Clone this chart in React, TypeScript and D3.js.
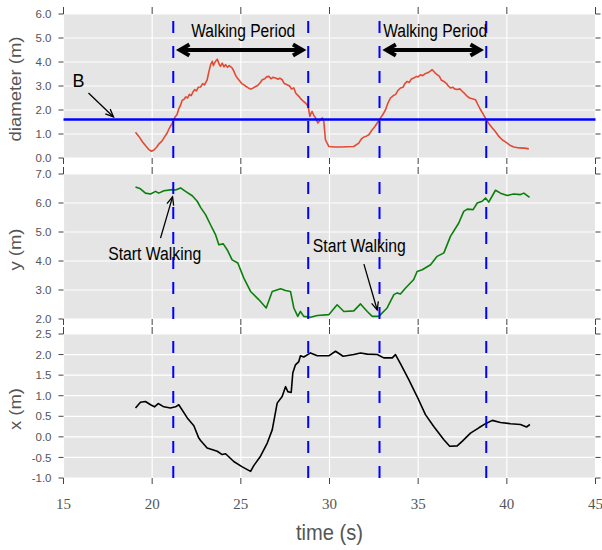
import React from "react";
import * as d3 from "d3";

// ---- data ----
const diameterTime = [19.06,19.25,19.45,19.62,19.8,19.96,20.1,20.25,20.4,20.55,20.7,20.85,20.94,21.05,21.12,21.19,21.3,21.4,21.5,21.6,21.69,21.8,21.9,22.0,22.1,22.2,22.3,22.4,22.5,22.6,22.73,22.85,22.95,23.1,23.2,23.3,23.39,23.45,23.55,23.67,23.78,23.85,23.95,24.05,24.14,24.25,24.35,24.51,24.62,24.7,24.8,24.95,25.05,25.17,25.3,25.4,25.55,25.7,25.83,25.95,26.1,26.21,26.35,26.45,26.58,26.7,26.8,26.96,27.1,27.2,27.33,27.45,27.61,27.75,27.85,27.99,28.1,28.27,28.4,28.5,28.65,28.8,28.89,28.95,29.02,29.1,29.21,29.34,29.45,29.59,29.68,29.77,29.96,30.3,30.62,31.0,31.37,31.65,31.8,31.93,32.1,32.22,32.41,32.55,32.69,32.88,33.0,33.16,33.3,33.44,33.6,33.72,33.85,34.0,34.15,34.25,34.38,34.5,34.6,34.75,34.9,35.0,35.13,35.25,35.4,35.51,35.65,35.79,35.95,36.07,36.2,36.3,36.45,36.6,36.7,36.82,36.95,37.05,37.2,37.35,37.48,37.6,37.77,37.9,38.05,38.23,38.35,38.52,38.65,38.84,39.0,39.18,39.35,39.55,39.75,39.9,40.02,40.2,40.39,40.7,41.0,41.24];
const diameterValues = [1.07,0.9,0.68,0.52,0.36,0.28,0.33,0.45,0.6,0.7,0.88,1.05,1.2,1.35,1.42,1.55,1.72,1.8,2.05,2.2,2.4,2.45,2.55,2.5,2.65,2.6,2.75,2.85,2.8,2.95,2.96,3.1,3.05,3.26,3.6,3.9,4.03,3.85,4.0,4.12,3.9,3.82,3.95,3.8,3.89,3.78,3.85,3.75,3.6,3.45,3.33,3.2,3.1,3.05,2.98,2.93,2.87,2.92,2.98,3.02,3.15,3.26,3.3,3.38,3.4,3.3,3.36,3.33,3.28,3.33,3.26,3.1,3.05,3.0,2.88,2.92,2.7,2.57,2.45,2.38,2.29,2.15,1.73,1.85,1.94,1.8,1.67,1.46,1.55,1.67,1.52,0.76,0.48,0.46,0.46,0.47,0.48,0.62,0.8,0.87,0.92,0.97,1.18,1.3,1.46,1.67,1.8,2.01,2.3,2.5,2.6,2.64,2.8,2.92,2.95,3.1,3.19,3.15,3.28,3.33,3.4,3.38,3.47,3.43,3.52,3.54,3.6,3.68,3.55,3.47,3.4,3.25,3.19,3.1,3.0,2.92,2.95,2.88,2.85,2.88,2.78,2.7,2.57,2.5,2.47,2.43,2.25,2.01,1.85,1.6,1.42,1.25,1.1,0.9,0.75,0.68,0.62,0.52,0.46,0.42,0.41,0.38];

const yPosTime = [19.06,19.34,19.62,19.91,20.19,20.37,20.66,21.13,21.32,21.6,21.88,22.26,22.54,22.73,23.01,23.29,23.57,23.76,24.01,24.23,24.51,24.83,25.17,25.55,26.01,26.43,26.77,27.24,27.52,27.8,27.99,28.21,28.36,28.55,28.93,29.31,29.96,30.43,30.81,31.37,31.75,32.13,32.41,32.78,33.25,33.63,33.82,34.0,34.29,34.75,34.94,35.23,35.7,36.07,36.45,36.82,37.29,37.57,37.77,38.1,38.33,38.61,38.8,38.98,39.36,39.64,40.02,40.39,40.77,40.96,41.28];
const yPosValues = [6.55,6.49,6.34,6.31,6.4,6.34,6.42,6.46,6.45,6.52,6.4,6.25,6.06,5.85,5.6,5.25,4.91,4.56,4.59,4.39,4.04,3.93,3.41,2.95,2.67,2.38,2.95,3.04,2.98,2.95,2.38,2.09,2.26,2.09,2.06,2.12,2.15,2.49,2.26,2.28,2.52,2.26,2.09,2.09,2.38,2.84,2.9,2.86,3.07,3.36,3.64,3.7,3.87,4.16,4.28,4.85,5.31,5.71,5.79,5.77,6.0,6.06,6.17,6.03,6.44,6.34,6.26,6.31,6.29,6.34,6.19];

const xPosTime = [19.06,19.34,19.62,19.91,20.13,20.34,20.66,21.03,21.32,21.5,21.98,22.35,22.63,22.73,23.1,23.67,23.95,24.14,24.6,25.08,25.55,25.73,26.11,26.49,26.77,27.05,27.33,27.52,27.65,27.84,27.93,28.08,28.27,28.36,28.55,28.93,29.31,29.96,30.34,30.77,31.37,31.75,32.13,32.69,33.06,33.54,33.72,34.0,34.47,34.94,35.41,35.88,36.45,36.78,37.2,37.48,37.95,38.42,38.8,39.18,39.64,40.21,40.77,41.11,41.3];
const xPosValues = [0.7,0.84,0.86,0.78,0.73,0.81,0.73,0.7,0.73,0.78,0.46,0.27,-0.03,-0.09,-0.27,-0.35,-0.43,-0.41,-0.6,-0.73,-0.84,-0.7,-0.47,-0.15,0.17,0.82,0.98,1.22,1.1,1.08,1.55,1.75,1.83,1.97,1.94,2.04,1.97,1.97,2.08,1.96,2.0,2.04,2.01,2.0,1.92,1.92,2.0,1.78,1.39,0.98,0.54,0.25,-0.07,-0.23,-0.22,-0.11,0.09,0.22,0.32,0.4,0.35,0.32,0.3,0.24,0.3];

const timeTicks = [15, 20, 25, 30, 35, 40, 45];
const diameterTicks = [0, 1, 2, 3, 4, 5, 6];
const yPosTicks = [2, 3, 4, 5, 6, 7];
const xPosTicks = [-1, -0.5, 0, 0.5, 1, 1.5, 2, 2.5];
const walkingMarks = [21.19, 28.8, 32.82, 38.84];
const walkingPeriods = [[21.48, 28.56], [33.12, 38.57]];
const thresholdB = 1.6;

const W = 602, H = 550;
const x = d3.scaleLinear().domain([15, 45]).range([63.5, 595.5]);
const LEFT = x(15), RIGHT = x(45);

const panels = [
  { key: "d", top: 14, bottom: 158, domain: [0, 6], ticks: diameterTicks, label: "diameter (m)", labelLen: 105, t: diameterTime, v: diameterValues, color: "#e24a33" },
  { key: "y", top: 174, bottom: 319, domain: [2, 7], ticks: yPosTicks, label: "y (m)", labelLen: 42, t: yPosTime, v: yPosValues, color: "#0b7f0b" },
  { key: "x", top: 334, bottom: 478, domain: [-1, 2.5], ticks: xPosTicks, label: "x (m)", labelLen: 42, t: xPosTime, v: xPosValues, color: "#000000" },
].map((p) => ({ ...p, y: d3.scaleLinear().domain(p.domain).range([p.bottom, p.top]) }));

const SANS = "'Liberation Sans', Arial, Helvetica, sans-serif";
const SERIF = "'Liberation Serif', 'Times New Roman', serif";

function thinArrow(x1: number, y1: number, x2: number, y2: number, key: string) {
  const ang = Math.atan2(y2 - y1, x2 - x1);
  const hl = 8, hw = 3.5;
  const bx = x2 - hl * Math.cos(ang), by = y2 - hl * Math.sin(ang);
  const px = -Math.sin(ang) * hw, py = Math.cos(ang) * hw;
  return (
    <g key={key} stroke="#000" strokeWidth={1.3} fill="none">
      <line x1={x1} y1={y1} x2={x2} y2={y2} />
      <path d={`M${bx + px},${by + py}L${x2},${y2}L${bx - px},${by - py}`} />
    </g>
  );
}

function thickDoubleArrow(xa: number, xb: number, yy: number, key: string) {
  const hl = 11, hw = 5.5;
  return (
    <g key={key} stroke="#000" strokeWidth={4} fill="none" strokeLinejoin="miter" strokeMiterlimit={10}>
      <line x1={xa + 2} y1={yy} x2={xb - 2} y2={yy} />
      <path d={`M${xa + hl},${yy - hw}L${xa + 1.5},${yy}L${xa + hl},${yy + hw}`} />
      <path d={`M${xb - hl},${yy - hw}L${xb - 1.5},${yy}L${xb - hl},${yy + hw}`} />
    </g>
  );
}

export default function App() {
  const top = panels[0], mid = panels[1];
  return (
    <svg width={W} height={H} style={{ position: "absolute", left: 0, top: 0, background: "#fff" }}>
      {panels.map((p) => {
        const line = d3.line<number>().x((_, i) => x(p.t[i])).y((d) => p.y(d));
        return (
          <g key={p.key}>
            <rect x={LEFT} y={p.top} width={RIGHT - LEFT} height={p.bottom - p.top} fill="#e5e5e5" />
            {p.ticks.map((tv) => (
              <line key={"gh" + tv} x1={LEFT} x2={RIGHT} y1={p.y(tv)} y2={p.y(tv)} stroke="#fff" strokeWidth={1.2} />
            ))}
            {timeTicks.map((tv) => (
              <line key={"gv" + tv} x1={x(tv)} x2={x(tv)} y1={p.top} y2={p.bottom} stroke="#fff" strokeWidth={1.2} />
            ))}
            {p.ticks.map((tv) => (
              <g key={"t" + tv}>
                <line x1={LEFT - 5} x2={LEFT} y1={p.y(tv)} y2={p.y(tv)} stroke="#444" strokeWidth={1} />
                <line x1={RIGHT} x2={RIGHT + 5} y1={p.y(tv)} y2={p.y(tv)} stroke="#444" strokeWidth={1} />
                <text x={LEFT - 12} y={p.y(tv)} dy="0.36em" textAnchor="end" fontFamily={SANS} fontSize={11.5} fill="#555">
                  {tv.toFixed(1)}
                </text>
              </g>
            ))}
            {timeTicks.map((tv) => (
              <g key={"xt" + tv}>
                <line x1={x(tv)} x2={x(tv)} y1={p.top - 7} y2={p.top} stroke="#444" strokeWidth={1} />
                <line x1={x(tv)} x2={x(tv)} y1={p.bottom} y2={p.bottom + 6} stroke="#444" strokeWidth={1} />
              </g>
            ))}
            <path d={line(p.v) || ""} fill="none" stroke={p.color} strokeWidth={1.6} strokeLinejoin="round" />
            {walkingMarks.map((tv) => (
              <line key={"w" + tv} x1={x(tv)} x2={x(tv)} y1={p.bottom} y2={p.top} stroke="#0000ff" strokeWidth={2} strokeDasharray="12,13" />
            ))}
            <text
              transform={`translate(21,${(p.top + p.bottom) / 2 + 3}) rotate(-90)`}
              textAnchor="middle"
              fontFamily={SANS}
              fontSize={16}
              fill="#555"
              textLength={p.labelLen}
              lengthAdjust="spacingAndGlyphs"
            >
              {p.label}
            </text>
          </g>
        );
      })}

      {/* threshold B */}
      <line x1={LEFT} x2={RIGHT} y1={top.y(thresholdB)} y2={top.y(thresholdB)} stroke="#0000ff" strokeWidth={2.5} />
      <text x={x(15.51)} y={top.y(2.96)} fontFamily={SANS} fontSize={18} fill="#000">B</text>
      {thinArrow(x(16.41), top.y(2.71), x(17.82), top.y(1.71), "bArrow")}

      {/* walking periods */}
      {walkingPeriods.map(([a, b], i) => (
        <g key={"wp" + i}>
          {thickDoubleArrow(x(a), x(b), top.y(4.5), "wpa" + i)}
          <text
            x={x(a) + (x(b) - x(a)) / 2 + 2}
            y={top.y(5.04)}
            textAnchor="middle"
            fontFamily={SANS}
            fontSize={18}
            fill="#000"
            textLength={104}
            lengthAdjust="spacingAndGlyphs"
          >
            Walking Period
          </text>
        </g>
      ))}

      {/* start walking */}
      <text x={x(17.52)} y={mid.y(4.03)} fontFamily={SANS} fontSize={18} fill="#000" textLength={93} lengthAdjust="spacingAndGlyphs">
        Start Walking
      </text>
      {thinArrow(x(20.47), mid.y(4.79), x(21.15), mid.y(6.21), "sw1")}
      <text x={x(29.06)} y={mid.y(4.32)} fontFamily={SANS} fontSize={18} fill="#000" textLength={93} lengthAdjust="spacingAndGlyphs">
        Start Walking
      </text>
      {thinArrow(x(31.94), mid.y(3.89), x(32.69), mid.y(2.31), "sw2")}

      {/* time axis labels */}
      {timeTicks.map((tv) => (
        <text key={"xl" + tv} x={x(tv)} y={509} textAnchor="middle" fontFamily={SERIF} fontSize={15} fill="#555">
          {tv}
        </text>
      ))}
      <text x={x(30)} y={540} textAnchor="middle" fontFamily={SANS} fontSize={22} fill="#555" textLength={67} lengthAdjust="spacingAndGlyphs">
        time (s)
      </text>
    </svg>
  );
}
